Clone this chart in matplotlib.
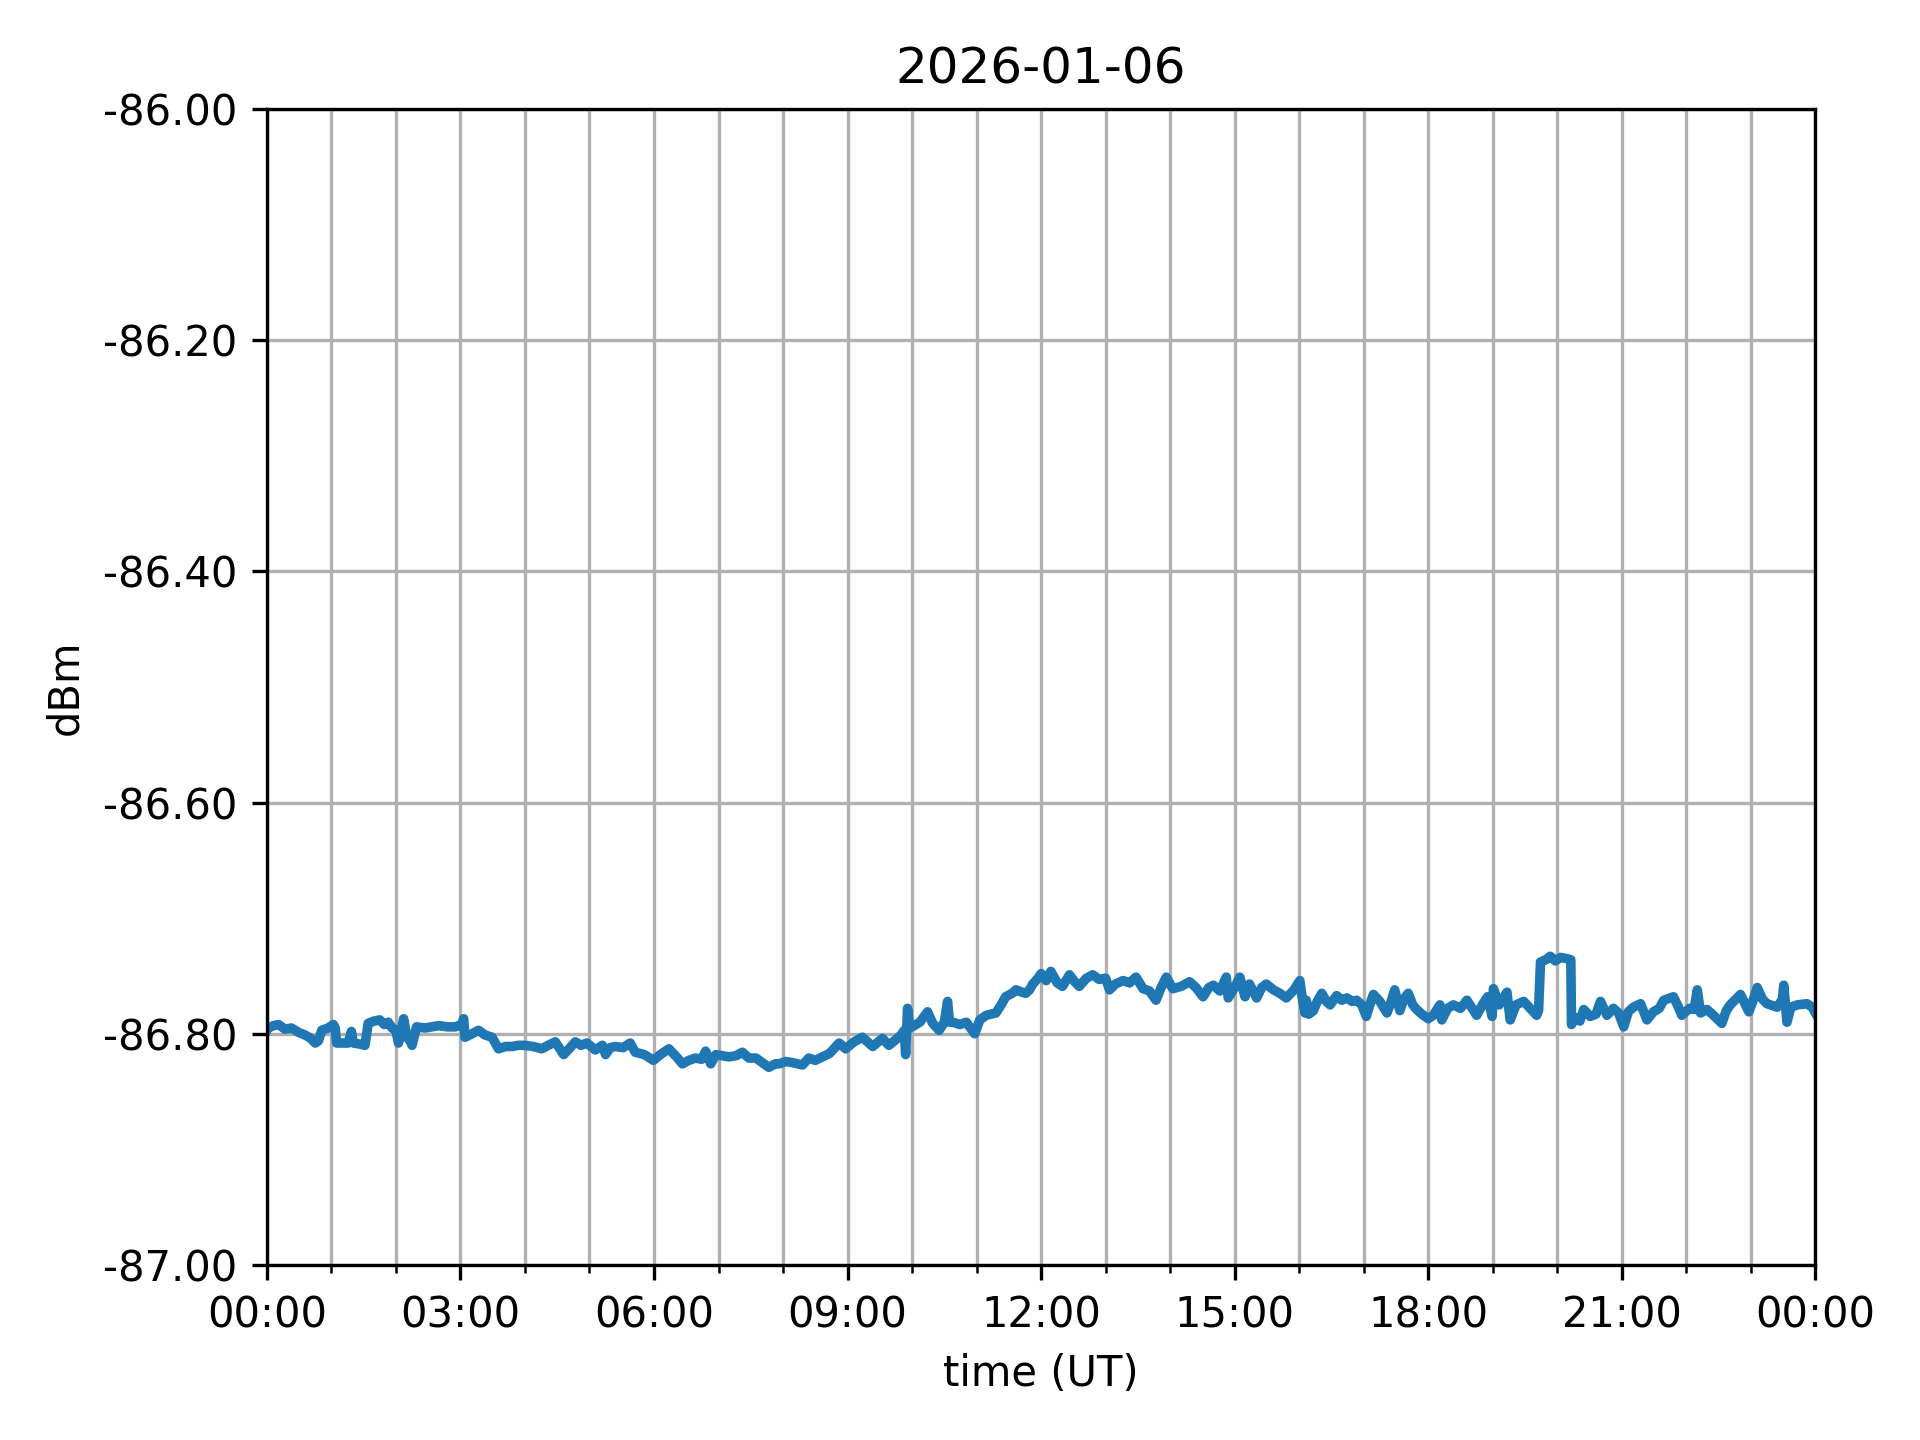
#!/usr/bin/env python3
"""Daily signal level plot (dBm vs UT)."""

import matplotlib
matplotlib.use('Agg')
import matplotlib.pyplot as plt
import matplotlib.dates as mdates
from matplotlib.ticker import MultipleLocator, FormatStrFormatter
import pandas as pd

day = '2026-01-06'

# hours since 00:00 UT
hours = [
    0.00, 0.02, 0.10, 0.18, 0.28, 0.38, 0.50, 0.59, 0.68, 0.75, 0.80, 0.85, 0.95,
    1.03, 1.06, 1.08, 1.18, 1.26, 1.31, 1.34, 1.45, 1.52, 1.57, 1.66, 1.75, 1.82,
    1.88, 1.94, 2.00, 2.04, 2.08, 2.12, 2.17, 2.22, 2.25, 2.32, 2.45, 2.56, 2.66,
    2.80, 2.92, 3.02, 3.05, 3.07, 3.18, 3.28, 3.38, 3.49, 3.59, 3.70, 3.80, 3.90,
    4.00, 4.13, 4.26, 4.36, 4.47, 4.60, 4.70, 4.78, 4.87, 4.96, 5.09, 5.20, 5.25,
    5.32, 5.40, 5.52, 5.63, 5.71, 5.85, 5.99, 6.10, 6.23, 6.35, 6.44, 6.54, 6.64,
    6.74, 6.80, 6.88, 6.96, 7.06, 7.16, 7.27, 7.37, 7.47, 7.58, 7.68, 7.78, 7.88,
    7.94, 8.04, 8.15, 8.30, 8.40, 8.50, 8.61, 8.72, 8.87, 8.97, 9.10, 9.23, 9.39,
    9.54, 9.64, 9.75, 9.83, 9.88, 9.90, 9.93, 9.96, 10.00, 10.12, 10.24, 10.32,
    10.42, 10.50, 10.55, 10.58, 10.63, 10.74, 10.84, 10.97, 11.05, 11.15, 11.30,
    11.38, 11.45, 11.55, 11.61, 11.70, 11.76, 11.82, 11.87, 11.95, 12.00, 12.08,
    12.15, 12.25, 12.33, 12.44, 12.52, 12.59, 12.70, 12.80, 12.90, 13.00, 13.06,
    13.15, 13.27, 13.37, 13.47, 13.58, 13.68, 13.78, 13.86, 13.94, 14.04, 14.17,
    14.30, 14.40, 14.51, 14.60, 14.67, 14.77, 14.87, 14.90, 15.00, 15.08, 15.16,
    15.23, 15.34, 15.42, 15.49, 15.60, 15.70, 15.80, 15.92, 16.01, 16.05, 16.09,
    16.11, 16.15, 16.22, 16.28, 16.35, 16.42, 16.48, 16.58, 16.66, 16.74, 16.82,
    16.89, 16.97, 17.04, 17.10, 17.15, 17.25, 17.36, 17.42, 17.48, 17.56, 17.62,
    17.69, 17.76, 17.82, 17.90, 18.00, 18.08, 18.18, 18.21, 18.30, 18.39, 18.50,
    18.60, 18.68, 18.75, 18.85, 18.92, 18.99, 19.01, 19.10, 19.22, 19.27, 19.36,
    19.48, 19.58, 19.68, 19.71, 19.74, 19.82, 19.89, 19.97, 20.05, 20.15, 20.21,
    20.22, 20.28, 20.35, 20.41, 20.51, 20.60, 20.67, 20.77, 20.87, 20.95, 21.03,
    21.10, 21.18, 21.29, 21.39, 21.49, 21.58, 21.65, 21.80, 21.87, 21.93, 22.05,
    22.12, 22.17, 22.22, 22.32, 22.42, 22.55, 22.62, 22.68, 22.84, 22.97, 23.03,
    23.10, 23.18, 23.25, 23.41, 23.49, 23.51, 23.56, 23.62, 23.72, 23.87, 23.95,
    24.00,
]

dbm = [
    -86.797, -86.795, -86.793, -86.792, -86.796, -86.795, -86.799, -86.801, -86.804,
    -86.808, -86.806, -86.797, -86.795, -86.792, -86.795, -86.808, -86.808, -86.808,
    -86.798, -86.808, -86.809, -86.810, -86.791, -86.789, -86.788, -86.792, -86.790,
    -86.795, -86.797, -86.808, -86.797, -86.787, -86.803, -86.806, -86.810, -86.794,
    -86.795, -86.794, -86.793, -86.794, -86.794, -86.792, -86.787, -86.803, -86.800,
    -86.797, -86.801, -86.803, -86.813, -86.811, -86.811, -86.810, -86.810, -86.811,
    -86.813, -86.810, -86.807, -86.818, -86.812, -86.807, -86.810, -86.808, -86.814,
    -86.810, -86.818, -86.812, -86.811, -86.812, -86.808, -86.816, -86.818, -86.823,
    -86.818, -86.813, -86.820, -86.826, -86.823, -86.821, -86.822, -86.815, -86.826,
    -86.818, -86.819, -86.820, -86.819, -86.816, -86.821, -86.821, -86.825, -86.829,
    -86.826, -86.826, -86.824, -86.825, -86.827, -86.821, -86.823, -86.820, -86.817,
    -86.808, -86.813, -86.807, -86.803, -86.811, -86.804, -86.810, -86.805, -86.801,
    -86.797, -86.818, -86.778, -86.795, -86.794, -86.790, -86.781, -86.791, -86.797,
    -86.790, -86.772, -86.790, -86.790, -86.792, -86.790, -86.800, -86.788, -86.784,
    -86.782, -86.775, -86.768, -86.765, -86.762, -86.764, -86.765, -86.762, -86.757,
    -86.752, -86.748, -86.754, -86.746, -86.756, -86.759, -86.749, -86.755, -86.759,
    -86.752, -86.749, -86.753, -86.752, -86.762, -86.757, -86.754, -86.756, -86.751,
    -86.761, -86.763, -86.771, -86.760, -86.751, -86.761, -86.759, -86.755, -86.760,
    -86.768, -86.760, -86.758, -86.763, -86.751, -86.769, -86.760, -86.751, -86.768,
    -86.757, -86.769, -86.760, -86.757, -86.762, -86.765, -86.769, -86.762, -86.754,
    -86.770, -86.782, -86.771, -86.783, -86.780, -86.772, -86.765, -86.772, -86.775,
    -86.767, -86.771, -86.769, -86.772, -86.771, -86.775, -86.785, -86.774, -86.766,
    -86.772, -86.782, -86.773, -86.762, -86.780, -86.770, -86.765, -86.775, -86.779,
    -86.783, -86.787, -86.784, -86.775, -86.788, -86.778, -86.775, -86.778, -86.771,
    -86.778, -86.784, -86.774, -86.768, -86.785, -86.761, -86.775, -86.764, -86.788,
    -86.775, -86.772, -86.778, -86.784, -86.780, -86.738, -86.736, -86.733, -86.737,
    -86.734, -86.735, -86.736, -86.792, -86.786, -86.789, -86.779, -86.785, -86.783,
    -86.772, -86.784, -86.778, -86.782, -86.794, -86.781, -86.777, -86.774, -86.788,
    -86.781, -86.778, -86.771, -86.768, -86.776, -86.784, -86.778, -86.779, -86.762,
    -86.782, -86.779, -86.784, -86.791, -86.780, -86.775, -86.766, -86.781, -86.772,
    -86.760, -86.770, -86.774, -86.777, -86.770, -86.758, -86.790, -86.777, -86.775,
    -86.774, -86.777, -86.782,
]

t0 = pd.Timestamp(day)
times = t0 + pd.to_timedelta(hours, unit='h')

fig, ax = plt.subplots(figsize=(6.4, 4.8), dpi=300)
fig.subplots_adjust(left=0.139, right=0.9455, top=0.9245, bottom=0.1215)

ax.plot(times, dbm, color='#1f77b4', linewidth=2.3)

ax.set_xlim(t0, t0 + pd.Timedelta(days=1))
ax.set_ylim(-87.0, -86.0)

ax.xaxis.set_major_locator(mdates.HourLocator(interval=3))
ax.xaxis.set_minor_locator(mdates.HourLocator())
ax.xaxis.set_major_formatter(mdates.DateFormatter('%H:%M'))
ax.yaxis.set_major_locator(MultipleLocator(0.2))
ax.yaxis.set_major_formatter(FormatStrFormatter('%.2f'))

ax.grid(True, which='both')
ax.set_title(day)
ax.set_xlabel('time (UT)')
ax.set_ylabel('dBm')

plt.savefig('out.png', dpi=300)
